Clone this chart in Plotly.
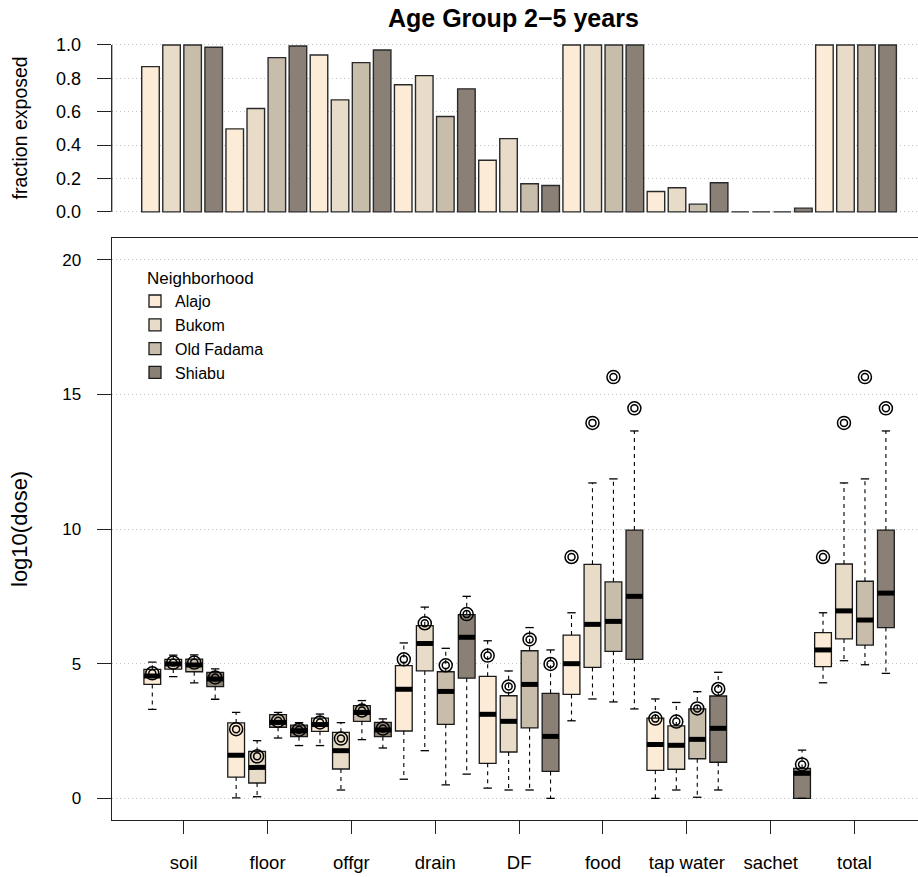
import plotly.graph_objects as go

# ---------------- data ----------------
pathways = ["soil", "floor", "offgr", "drain", "DF", "food", "tap water", "sachet", "total"]
neighborhoods = ["Alajo", "Bukom", "Old Fadama", "Shiabu"]
colors = ["#FCEBD6", "#E8DCC8", "#C8BCAB", "#8A8076"]

# fraction exposed, pathway-major, neighborhood-minor (36 values)
frac_exposed = [
    0.870, 1.000, 1.000, 0.986,
    0.497, 0.619, 0.924, 0.994,
    0.940, 0.671, 0.894, 0.970,
    0.762, 0.816, 0.571, 0.737,
    0.309, 0.439, 0.168, 0.158,
    1.000, 1.000, 1.000, 1.000,
    0.122, 0.144, 0.046, 0.174,
    0.000, 0.000, 0.000, 0.022,
    1.000, 1.000, 1.000, 1.000,
]

# log10(dose) box statistics (same order)
whisker_low = [
    3.30, 4.52, 4.29, 3.68,
    0.02, 0.06, 2.24, 1.96,
    1.96, 0.31, 2.18, 1.87,
    0.71, 1.77, 0.50, 0.90,
    0.38, 0.31, 0.31, 0.00,
    2.88, 3.69, 3.58, 3.32,
    0.00, 0.31, 0.04, 0.31,
    None, None, None, 0.00,
    4.29, 5.11, 4.96, 4.64,
]
q1 = [
    4.23, 4.80, 4.70, 4.15,
    0.79, 0.57, 2.64, 2.29,
    2.49, 1.09, 2.86, 2.29,
    2.50, 4.73, 2.75, 4.46,
    1.30, 1.72, 2.62, 1.00,
    3.86, 4.86, 5.46, 5.16,
    1.04, 1.08, 1.47, 1.34,
    None, None, None, 0.00,
    4.89, 5.92, 5.69, 6.34,
]
median = [
    4.54, 4.99, 4.95, 4.43,
    1.60, 1.15, 2.82, 2.51,
    2.74, 1.77, 3.19, 2.54,
    4.05, 5.75, 3.97, 5.98,
    3.12, 2.86, 4.23, 2.30,
    5.00, 6.46, 6.57, 7.50,
    2.00, 1.97, 2.19, 2.60,
    None, None, None, 0.93,
    5.51, 6.96, 6.62, 7.62,
]
q3 = [
    4.79, 5.16, 5.17, 4.68,
    2.80, 1.74, 3.11, 2.72,
    2.98, 2.45, 3.44, 2.82,
    4.93, 6.41, 4.70, 6.82,
    4.53, 3.81, 5.48, 3.90,
    6.06, 8.69, 8.04, 9.96,
    2.98, 2.69, 3.32, 3.80,
    None, None, None, 1.11,
    6.15, 8.70, 8.06, 9.96,
]
whisker_high = [
    5.06, 5.32, 5.33, 4.81,
    3.19, 2.14, 3.19, 2.81,
    3.13, 2.81, 3.63, 2.95,
    5.77, 7.10, 5.57, 7.50,
    5.85, 4.73, 6.34, 5.51,
    6.89, 11.71, 11.86, 13.64,
    3.69, 3.56, 3.96, 4.68,
    None, None, None, 1.79,
    6.89, 11.71, 11.86, 13.64,
]
mean_dose = [
    4.64, 5.04, 5.04, 4.49,
    2.57, 1.56, 2.88, 2.55,
    2.82, 2.22, 3.26, 2.59,
    5.16, 6.50, 4.94, 6.84,
    5.30, 4.15, 5.90, 4.99,
    8.96, 13.94, 15.64, 14.48,
    2.96, 2.85, 3.34, 4.06,
    None, None, None, 1.26,
    8.96, 13.94, 15.64, 14.48,
]

frac_ticks = [0.0, 0.2, 0.4, 0.6, 0.8, 1.0]
dose_ticks = [0, 5, 10, 15, 20]

# ---------------- layout geometry ----------------
W, H = 918, 877
FONT = "Liberation Sans, Arial, Helvetica, sans-serif"
n_groups = len(pathways)
n_nb = len(neighborhoods)
positions = [g * n_nb + k + 1 for g in range(n_groups) for k in range(n_nb)]
group_centers = [g * n_nb + (n_nb + 1) / 2 for g in range(n_groups)]

BOXW = 0.8
CAPW = 0.4
GRID = dict(showgrid=True, gridcolor="#c4c4c4", griddash="1px,3px", gridwidth=1)

fig = go.Figure()

# ---------- top panel: fraction exposed ----------
for k, nb in enumerate(neighborhoods):
    idx = [i for i in range(len(positions)) if i % n_nb == k]
    fig.add_trace(go.Bar(
        x=[positions[i] for i in idx],
        y=[frac_exposed[i] for i in idx],
        width=1 / 1.2,
        marker=dict(color=colors[k], line=dict(color="#2a2a2a", width=1.4)),
        xaxis="x", yaxis="y", showlegend=False, hoverinfo="skip",
    ))

# ---------- bottom panel: boxes ----------
for k, nb in enumerate(neighborhoods):
    idx = [i for i in range(len(positions)) if i % n_nb == k and q1[i] is not None]
    fig.add_trace(go.Bar(
        x=[positions[i] for i in idx],
        base=[q1[i] for i in idx],
        y=[q3[i] - q1[i] for i in idx],
        width=BOXW,
        marker=dict(color=colors[k], line=dict(color="#1a1a1a", width=1.3)),
        name=nb, xaxis="x2", yaxis="y2", hoverinfo="skip",
    ))

wx, wy, cx, cy, mx, my = [], [], [], [], [], []
for i, p in enumerate(positions):
    if q1[i] is None:
        continue
    wx += [p, p, None, p, p, None]
    wy += [q3[i], whisker_high[i], None, q1[i], whisker_low[i], None]
    cx += [p - CAPW / 2, p + CAPW / 2, None, p - CAPW / 2, p + CAPW / 2, None]
    cy += [whisker_high[i], whisker_high[i], None, whisker_low[i], whisker_low[i], None]
    mx += [p - BOXW / 2, p + BOXW / 2, None]
    my += [median[i], median[i], None]

fig.add_trace(go.Scatter(x=wx, y=wy, mode="lines", xaxis="x2", yaxis="y2",
                         line=dict(color="black", width=1.1, dash="4px,4px"),
                         showlegend=False, hoverinfo="skip"))
fig.add_trace(go.Scatter(x=cx, y=cy, mode="lines", xaxis="x2", yaxis="y2",
                         line=dict(color="black", width=1.3),
                         showlegend=False, hoverinfo="skip"))
fig.add_trace(go.Scatter(x=mx, y=my, mode="lines", xaxis="x2", yaxis="y2",
                         line=dict(color="black", width=5),
                         showlegend=False, hoverinfo="skip"))

mpx = [positions[i] for i in range(len(positions)) if mean_dose[i] is not None]
mpy = [mean_dose[i] for i in range(len(positions)) if mean_dose[i] is not None]
for size in (13, 7):
    fig.add_trace(go.Scatter(x=mpx, y=mpy, mode="markers", xaxis="x2", yaxis="y2",
                             marker=dict(symbol="circle-open", size=size, color="black",
                                         line=dict(color="black", width=1.5)),
                             showlegend=False, hoverinfo="skip"))

# ---------- axes ----------
x_left_px = 111.7
xdom = [x_left_px / W, 1.0]


def ydom(top_px, bottom_px):
    return [(H - bottom_px) / H, (H - top_px) / H]


fig.update_layout(
    template="none",
    width=W, height=H,
    margin=dict(l=0, r=0, t=0, b=0, pad=0),
    paper_bgcolor="white", plot_bgcolor="white",
    barmode="overlay",
    font=dict(family=FONT, color="black"),
    xaxis=dict(domain=xdom, range=[-0.842, 37.443], showgrid=False, zeroline=False,
               showticklabels=False, ticks="", showline=False, anchor="y",
               automargin=False),
    yaxis=dict(domain=ydom(38.3, 218.5), range=[-0.04, 1.04], anchor="x",
               tickvals=frac_ticks, ticktext=[f"{v:.1f}" for v in frac_ticks],
               ticks="outside", ticklen=14, tickwidth=1.3, tickcolor="#222",
               ticklabelstandoff=12, tickfont=dict(size=18),
               showline=False, zeroline=False, automargin=False, **GRID),
    xaxis2=dict(domain=xdom, range=[-0.937, 37.531], anchor="y2",
                tickvals=group_centers, ticktext=pathways,
                ticks="outside", ticklen=13, tickwidth=1.2, tickcolor="#222",
                ticklabelstandoff=13, tickfont=dict(size=18.5),
                showline=True, linecolor="#222", linewidth=1.3, mirror=True,
                showgrid=False, zeroline=False, automargin=False),
    yaxis2=dict(domain=ydom(238.1, 819.9), range=[-0.8, 20.8], anchor="x2",
                tickvals=dose_ticks, ticks="outside", ticklen=14, tickwidth=1.3,
                tickcolor="#222", ticklabelstandoff=12, tickfont=dict(size=17),
                showline=True, linecolor="#222", linewidth=1.3, mirror=False,
                zeroline=False, automargin=False, **GRID),
    legend=dict(x=135 / W, y=(H - 262) / H, xanchor="left", yanchor="top",
                bgcolor="rgba(0,0,0,0)", font=dict(size=16),
                title=dict(text="\u2002\u200aNeighborhood", font=dict(size=17)),
                tracegroupgap=0),
    showlegend=True,
)

# top-panel axis line only between first and last tick
fig.add_shape(type="line", xref="x domain", yref="y", x0=0, x1=0,
              y0=min(frac_ticks), y1=max(frac_ticks),
              line=dict(color="#222", width=1.3))

# titles
fig.add_annotation(text="<b>Age Group 2\u22125 years</b>", xref="paper", yref="paper",
                   x=513 / W, y=(H - 18) / H, showarrow=False,
                   font=dict(size=25), xanchor="center", yanchor="middle")
fig.add_annotation(text="fraction exposed", xref="paper", yref="paper",
                   x=20 / W, y=(H - 128.4) / H, textangle=-90, showarrow=False,
                   font=dict(size=19.5), xanchor="center", yanchor="middle")
fig.add_annotation(text="log10(dose)", xref="paper", yref="paper",
                   x=20 / W, y=(H - 529) / H, textangle=-90, showarrow=False,
                   font=dict(size=22), xanchor="center", yanchor="middle")

fig.write_html("out.html", config={"displayModeBar": False},
               post_script="document.body.style.margin='0';")
